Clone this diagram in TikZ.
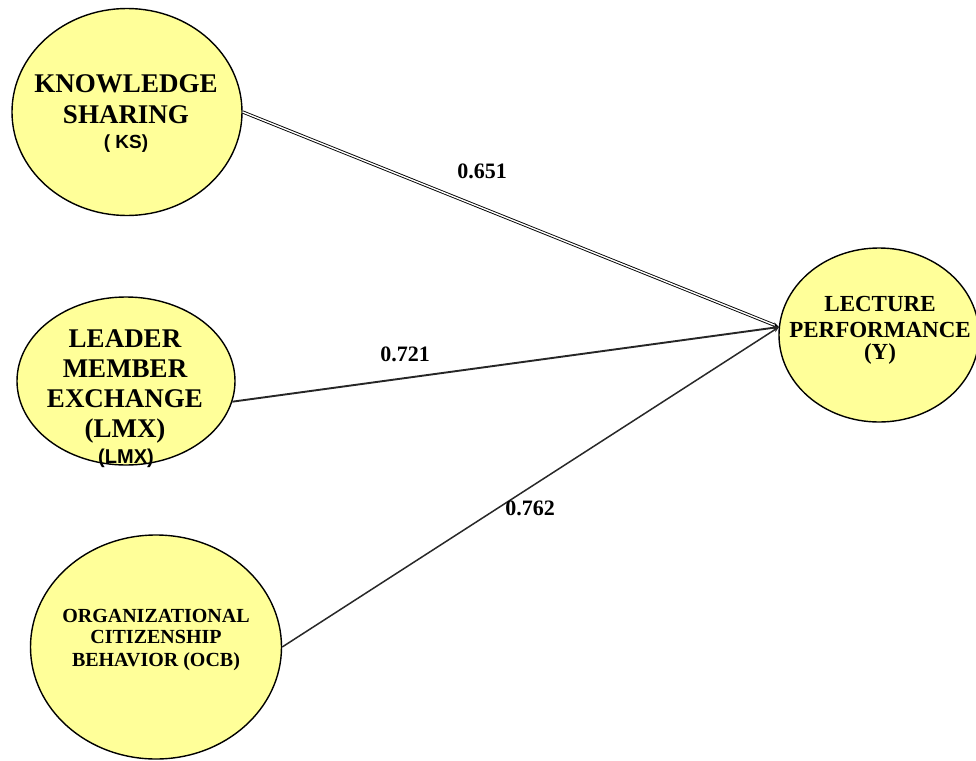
\documentclass[tikz,border=0pt]{standalone}
\usepackage{fontspec}
\setmainfont{Liberation Serif}
\setsansfont{Liberation Sans}
\usetikzlibrary{shapes.geometric,arrows.meta}
\definecolor{ovalfill}{RGB}{255,255,153}
\definecolor{linegray}{RGB}{40,40,40}
\tikzset{
  oval/.style={ellipse, draw=black, line width=1.4pt, fill=ovalfill, inner sep=0pt},
  ttl/.style={anchor=base, inner sep=0pt, font=\bfseries\fontsize{#1}{#1}\selectfont},
  sub/.style={anchor=base, inner sep=0pt, font=\sffamily\bfseries\fontsize{#1}{#1}\selectfont},
  coef/.style={anchor=base, inner sep=0pt, font=\bfseries\fontsize{22}{22}\selectfont},
  conn/.style={-{Stealth[length=6pt,width=5pt]}, line width=1.5pt, color=linegray},
}
\begin{document}
\begin{tikzpicture}[x=1pt,y=-1pt]
\useasboundingbox (0,0) rectangle (976,760);
% ovals
\node[oval, minimum width=230pt, minimum height=207pt] (ks) at (127,112) {};
\node[oval, minimum width=218pt, minimum height=168pt] (lmx) at (126,381) {};
\node[oval, minimum width=251pt, minimum height=224pt] (ocb) at (156,647) {};
\node[oval, minimum width=200pt, minimum height=174pt] (y) at (879,335) {};
\coordinate (tip) at (779,327);
% texts
\node[ttl=27] (ks1) at (126,92) {KNOWLEDGE};
\node[ttl=27] (ks2) at (126,123) {SHARING};
\node[sub=19] (ks3) at (126,148) {( KS)};
\node[ttl=27] (lm1) at (125,347) {LEADER};
\node[ttl=27] (lm2) at (125,377) {MEMBER};
\node[ttl=27] (lm3) at (125,407) {EXCHANGE};
\node[ttl=27] (lm4) at (125,437) {(LMX)};
\node[sub=20] (lm5) at (126,463) {(LMX)};
\node[ttl=20] (oc1) at (156,622) {ORGANIZATIONAL};
\node[ttl=20] (oc2) at (156,643) {CITIZENSHIP};
\node[ttl=20] (oc3) at (156,666) {BEHAVIOR (OCB)};
\node[ttl=23] (y1) at (880,311) {LECTURE};
\node[ttl=23] (y2) at (880,337) {PERFORMANCE};
\node[ttl=23] (y3) at (880,359) {(Y)};
% connectors
\draw[-{Stealth[length=6pt,width=5pt]}, double=white, double distance=1.4pt, line width=0.9pt, draw=black] (ks.east) -- (tip);
\draw[conn, line width=1.9pt, color=black!85] (lmx.-11) -- (tip);
\draw[conn] (ocb.east) -- (tip);
% coefficients
\node[coef] (c1) at (482,178) {0.651};
\node[coef] (c2) at (405,361) {0.721};
\node[coef] (c3) at (530,515) {0.762};
\end{tikzpicture}
\end{document}
